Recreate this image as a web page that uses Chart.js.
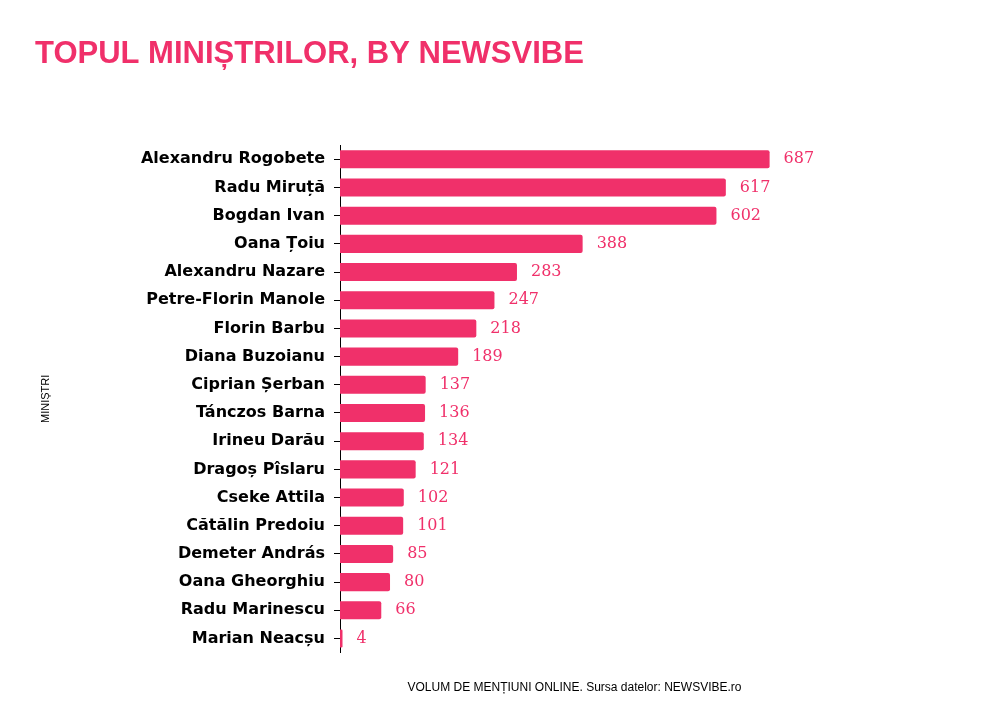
<!DOCTYPE html>
<html>
<head>
<meta charset="utf-8">
<script src="https://cdn.jsdelivr.net/npm/chart.js@4"></script>
<style>
  body { margin: 0; background: #fff; }
  #wrap { width: 992px; height: 706px; position: relative; }
</style>
</head>
<body>
<div id="wrap"><canvas id="ministriChart"></canvas></div>
<script>
const ministri = ["Alexandru Rogobete", "Radu Miruță", "Bogdan Ivan", "Oana Țoiu", "Alexandru Nazare",
  "Petre-Florin Manole", "Florin Barbu", "Diana Buzoianu", "Ciprian Șerban", "Tánczos Barna",
  "Irineu Darău", "Dragoș Pîslaru", "Cseke Attila", "Cătălin Predoiu", "Demeter András",
  "Oana Gheorghiu", "Radu Marinescu", "Marian Neacșu"]
const mentiuni = [687, 617, 602, 388, 283, 247, 218, 189, 137, 136, 134, 121, 102, 101, 85, 80, 66, 4]

const pink = "#f0306a"

// value labels at the end of each bar
const valueLabels = {
  id: "valueLabels",
  afterDatasetsDraw(chart) {
    const ctx = chart.ctx
    const meta = chart.getDatasetMeta(0)
    ctx.save()
    ctx.font = "16px 'DejaVu Serif'"
    ctx.fillStyle = pink
    ctx.textBaseline = "middle"
    meta.data.forEach((bar, i) => {
      ctx.fillText(mentiuni[i], bar.x + 14, bar.y)
    })
    ctx.restore()
  }
}

new Chart(document.getElementById("ministriChart"), {
  type: "bar",
  data: {
    labels: ministri,
    datasets: [{
      data: mentiuni,
      backgroundColor: pink,
      borderRadius: 2,
      categoryPercentage: 0.64,
      barPercentage: 1
    }]
  },
  plugins: [valueLabels],
  options: {
    indexAxis: "y",
    responsive: true,
    maintainAspectRatio: false,
    animation: false,
    layout: { padding: { left: 35, right: 183, bottom: 7 } },
    scales: {
      x: {
        min: 0,
        max: 750,
        grid: { display: false },
        border: { display: false },
        ticks: { display: false },
        title: {
          display: true,
          text: "VOLUM DE MENȚIUNI ONLINE. Sursa datelor: NEWSVIBE.ro",
          color: "#000",
          font: { family: "'Liberation Sans', Arial", size: 12 },
          padding: { top: 20 }
        }
      },
      y: {
        afterFit: scale => { scale.width = 305 },
        grid: { drawOnChartArea: false, offset: false, tickLength: 6, color: "#000" },
        border: { color: "#000" },
        ticks: { color: "#000", font: { family: "'DejaVu Sans'", size: 16, weight: "bold" }, padding: 9 },
        title: {
          display: true,
          text: "MINIȘTRI",
          color: "#000",
          font: { family: "'Liberation Sans', Arial", size: 11 }
        }
      }
    },
    plugins: {
      legend: { display: false },
      tooltip: { enabled: false },
      title: {
        display: true,
        text: "TOPUL MINIȘTRILOR, BY NEWSVIBE",
        align: "start",
        color: pink,
        font: { family: "'Liberation Sans', Arial", size: 31, weight: "bold" },
        padding: { top: 36, bottom: 72 }
      }
    }
  }
})
</script>
</body>
</html>
